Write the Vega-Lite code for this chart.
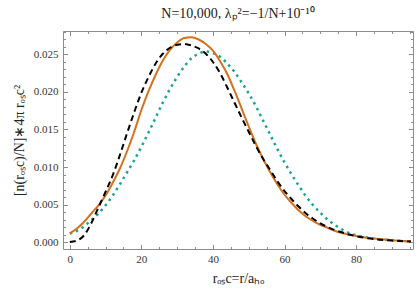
{
  "$schema": "https://vega.github.io/schema/vega-lite/v6.json",
  "width": 350,
  "height": 218,
  "autosize": {"type": "none"},
  "padding": {"left": 63, "top": 31, "right": 4, "bottom": 44},
  "background": "white",
  "config": {"view": {"stroke": null}},
  "title": {
    "text": "N=10,000, λₚ²=−1/N+10⁻¹⁰",
    "font": "Liberation Serif",
    "fontSize": 14,
    "fontWeight": "normal",
    "color": "#222222",
    "anchor": "middle",
    "frame": "group",
    "offset": 10
  },
  "data": {
    "values": [
      {"r":0,"v":0.00116,"s":"A"},{"r":2,"v":0.0018,"s":"A"},{"r":4,"v":0.0027,"s":"A"},{"r":6,"v":0.0038,"s":"A"},{"r":8,"v":0.0049,"s":"A"},{"r":10,"v":0.0062,"s":"A"},{"r":12,"v":0.0079,"s":"A"},{"r":14,"v":0.0098,"s":"A"},{"r":16,"v":0.0121,"s":"A"},{"r":18,"v":0.0147,"s":"A"},{"r":20,"v":0.0176,"s":"A"},{"r":22,"v":0.0201,"s":"A"},{"r":24,"v":0.0223,"s":"A"},{"r":26,"v":0.0242,"s":"A"},{"r":28,"v":0.0256,"s":"A"},{"r":30,"v":0.0266,"s":"A"},{"r":32,"v":0.0272,"s":"A"},{"r":34,"v":0.0273,"s":"A"},{"r":36,"v":0.0270,"s":"A"},{"r":38,"v":0.0264,"s":"A"},{"r":40,"v":0.0255,"s":"A"},{"r":42,"v":0.0241,"s":"A"},{"r":44,"v":0.0224,"s":"A"},{"r":46,"v":0.0202,"s":"A"},{"r":48,"v":0.0178,"s":"A"},{"r":50,"v":0.0154,"s":"A"},{"r":52,"v":0.0131,"s":"A"},{"r":54,"v":0.0111,"s":"A"},{"r":56,"v":0.0093,"s":"A"},{"r":58,"v":0.0077,"s":"A"},{"r":60,"v":0.0063,"s":"A"},{"r":62,"v":0.0052,"s":"A"},{"r":64,"v":0.0042,"s":"A"},{"r":66,"v":0.0034,"s":"A"},{"r":68,"v":0.0028,"s":"A"},{"r":70,"v":0.0023,"s":"A"},{"r":72,"v":0.0019,"s":"A"},{"r":74,"v":0.0015,"s":"A"},{"r":76,"v":0.0012,"s":"A"},{"r":78,"v":0.0010,"s":"A"},{"r":80,"v":0.0008,"s":"A"},{"r":82,"v":0.00065,"s":"A"},{"r":84,"v":0.00052,"s":"A"},{"r":86,"v":0.00042,"s":"A"},{"r":88,"v":0.00033,"s":"A"},{"r":90,"v":0.00025,"s":"A"},{"r":92,"v":0.00019,"s":"A"},{"r":94,"v":0.00014,"s":"A"},{"r":95.3,"v":0.00012,"s":"A"},
      {"r":0,"v":0.0000,"s":"B"},{"r":2,"v":0.0002,"s":"B"},{"r":4,"v":0.0009,"s":"B"},{"r":6,"v":0.0025,"s":"B"},{"r":8,"v":0.0046,"s":"B"},{"r":10,"v":0.0067,"s":"B"},{"r":12,"v":0.0089,"s":"B"},{"r":14,"v":0.0116,"s":"B"},{"r":16,"v":0.0145,"s":"B"},{"r":18,"v":0.0173,"s":"B"},{"r":20,"v":0.0199,"s":"B"},{"r":22,"v":0.0220,"s":"B"},{"r":24,"v":0.0238,"s":"B"},{"r":26,"v":0.0251,"s":"B"},{"r":28,"v":0.0259,"s":"B"},{"r":30,"v":0.0263,"s":"B"},{"r":32,"v":0.0264,"s":"B"},{"r":34,"v":0.0262,"s":"B"},{"r":36,"v":0.0258,"s":"B"},{"r":38,"v":0.0251,"s":"B"},{"r":40,"v":0.0240,"s":"B"},{"r":42,"v":0.0225,"s":"B"},{"r":44,"v":0.0206,"s":"B"},{"r":46,"v":0.0186,"s":"B"},{"r":48,"v":0.0166,"s":"B"},{"r":50,"v":0.0147,"s":"B"},{"r":52,"v":0.0128,"s":"B"},{"r":54,"v":0.0111,"s":"B"},{"r":56,"v":0.0096,"s":"B"},{"r":58,"v":0.0081,"s":"B"},{"r":60,"v":0.0068,"s":"B"},{"r":62,"v":0.0057,"s":"B"},{"r":64,"v":0.0047,"s":"B"},{"r":66,"v":0.0038,"s":"B"},{"r":68,"v":0.0031,"s":"B"},{"r":70,"v":0.0025,"s":"B"},{"r":72,"v":0.0020,"s":"B"},{"r":74,"v":0.0016,"s":"B"},{"r":76,"v":0.0013,"s":"B"},{"r":78,"v":0.0010,"s":"B"},{"r":80,"v":0.00078,"s":"B"},{"r":82,"v":0.0006,"s":"B"},{"r":84,"v":0.00046,"s":"B"},{"r":86,"v":0.00035,"s":"B"},{"r":88,"v":0.00026,"s":"B"},{"r":90,"v":0.00019,"s":"B"},{"r":92,"v":0.00013,"s":"B"},{"r":94,"v":0.00008,"s":"B"},{"r":95.3,"v":0.00006,"s":"B"},
      {"r":0,"v":0.0011,"s":"C"},{"r":2,"v":0.0015,"s":"C"},{"r":4,"v":0.0021,"s":"C"},{"r":6,"v":0.0029,"s":"C"},{"r":8,"v":0.0038,"s":"C"},{"r":10,"v":0.0049,"s":"C"},{"r":12,"v":0.0062,"s":"C"},{"r":14,"v":0.0077,"s":"C"},{"r":16,"v":0.0093,"s":"C"},{"r":18,"v":0.0109,"s":"C"},{"r":20,"v":0.0127,"s":"C"},{"r":22,"v":0.0146,"s":"C"},{"r":24,"v":0.0166,"s":"C"},{"r":26,"v":0.0186,"s":"C"},{"r":28,"v":0.0204,"s":"C"},{"r":30,"v":0.0220,"s":"C"},{"r":32,"v":0.0234,"s":"C"},{"r":34,"v":0.0245,"s":"C"},{"r":36,"v":0.0251,"s":"C"},{"r":38,"v":0.0254,"s":"C"},{"r":40,"v":0.0252,"s":"C"},{"r":42,"v":0.0247,"s":"C"},{"r":44,"v":0.0238,"s":"C"},{"r":46,"v":0.0227,"s":"C"},{"r":48,"v":0.0213,"s":"C"},{"r":50,"v":0.0198,"s":"C"},{"r":52,"v":0.0181,"s":"C"},{"r":54,"v":0.0162,"s":"C"},{"r":56,"v":0.0143,"s":"C"},{"r":58,"v":0.0124,"s":"C"},{"r":60,"v":0.0106,"s":"C"},{"r":62,"v":0.0090,"s":"C"},{"r":64,"v":0.0075,"s":"C"},{"r":66,"v":0.0061,"s":"C"},{"r":68,"v":0.0049,"s":"C"},{"r":70,"v":0.0039,"s":"C"},{"r":72,"v":0.0030,"s":"C"},{"r":74,"v":0.0023,"s":"C"},{"r":76,"v":0.0017,"s":"C"},{"r":78,"v":0.0012,"s":"C"},{"r":80,"v":0.0009,"s":"C"},{"r":82,"v":0.0007,"s":"C"},{"r":84,"v":0.00053,"s":"C"},{"r":86,"v":0.0004,"s":"C"},{"r":88,"v":0.0003,"s":"C"},{"r":90,"v":0.00022,"s":"C"},{"r":92,"v":0.00016,"s":"C"},{"r":94,"v":0.00011,"s":"C"},{"r":95.3,"v":0.0001,"s":"C"}
    ]
  },
  "layer": [
    {
      "transform": [{"filter": "datum.s === 'C'"}],
      "mark": {"type": "line", "color": "#1aa58c", "strokeWidth": 2.5, "strokeDash": [2.5, 4], "strokeCap": "butt", "interpolate": "monotone"},
      "encoding": {
        "x": {"field": "r", "type": "quantitative", "scale": {"domain": [-1.9, 95.9], "nice": false, "zero": false},
          "axis": {"orient": "bottom", "values": [0, 20, 40, 60, 80], "ticks": false, "domain": true, "domainColor": "#8c8c8c", "grid": false,
            "labelFont": "Liberation Serif", "labelFontSize": 11, "labelColor": "#333333", "labelPadding": 4,
            "title": "rₒₛc=r/aₕₒ", "titleFont": "Liberation Serif", "titleFontSize": 14, "titleFontWeight": "normal", "titleColor": "#222222", "titlePadding": 7}},
        "y": {"field": "v", "type": "quantitative", "scale": {"domain": [-0.00093, 0.02813], "nice": false, "zero": false},
          "axis": {"orient": "left", "values": [0, 0.005, 0.01, 0.015, 0.02, 0.025], "format": ".3f", "ticks": false, "domain": true, "domainColor": "#8c8c8c", "grid": false,
            "labelFont": "Liberation Serif", "labelFontSize": 11, "labelColor": "#333333", "labelPadding": 5,
            "title": "[n(rₒₛc)/N]∗4π rₒₛc²", "titleFont": "Liberation Serif", "titleFontSize": 14, "titleFontWeight": "normal", "titleColor": "#222222", "titlePadding": 7}}
      }
    },
    {
      "transform": [{"filter": "datum.s === 'A'"}],
      "mark": {"type": "line", "color": "#d4711c", "strokeWidth": 2, "interpolate": "monotone"},
      "encoding": {
        "x": {"field": "r", "type": "quantitative", "scale": {"domain": [-1.9, 95.9], "nice": false, "zero": false},
          "axis": {"orient": "bottom", "values": [0, 20, 40, 60, 80], "ticks": true, "tickSize": -4.5, "tickColor": "#8c8c8c", "labels": false, "domain": false, "grid": false, "title": null}},
        "y": {"field": "v", "type": "quantitative", "scale": {"domain": [-0.00093, 0.02813], "nice": false, "zero": false},
          "axis": {"orient": "left", "values": [0, 0.005, 0.01, 0.015, 0.02, 0.025], "ticks": true, "tickSize": -4.5, "tickColor": "#8c8c8c", "labels": false, "domain": false, "grid": false, "title": null}}
      }
    },
    {
      "transform": [{"filter": "datum.s === 'B'"}],
      "mark": {"type": "line", "color": "#000000", "strokeWidth": 2, "strokeDash": [6, 4], "interpolate": "monotone"},
      "encoding": {
        "x": {"field": "r", "type": "quantitative", "scale": {"domain": [-1.9, 95.9], "nice": false, "zero": false},
          "axis": {"orient": "bottom", "values": [5, 10, 15, 25, 30, 35, 45, 50, 55, 65, 70, 75, 85, 90, 95], "ticks": true, "tickSize": -2.5, "tickColor": "#8c8c8c", "labels": false, "domain": false, "grid": false, "title": null}},
        "y": {"field": "v", "type": "quantitative", "scale": {"domain": [-0.00093, 0.02813], "nice": false, "zero": false},
          "axis": {"orient": "left", "values": [0.001, 0.002, 0.003, 0.004, 0.006, 0.007, 0.008, 0.009, 0.011, 0.012, 0.013, 0.014, 0.016, 0.017, 0.018, 0.019, 0.021, 0.022, 0.023, 0.024, 0.026, 0.027, 0.028], "ticks": true, "tickSize": -2.5, "tickColor": "#8c8c8c", "labels": false, "domain": false, "grid": false, "title": null}}
      }
    },
    {
      "transform": [{"filter": "datum.s === 'A'"}],
      "mark": {"type": "line", "opacity": 0},
      "encoding": {
        "x": {"field": "r", "type": "quantitative", "scale": {"domain": [-1.9, 95.9], "nice": false, "zero": false},
          "axis": {"orient": "top", "values": [0, 20, 40, 60, 80], "ticks": true, "tickSize": -4.5, "tickColor": "#8c8c8c", "labels": false, "domain": true, "domainColor": "#8c8c8c", "grid": false, "title": null}},
        "y": {"field": "v", "type": "quantitative", "scale": {"domain": [-0.00093, 0.02813], "nice": false, "zero": false},
          "axis": {"orient": "right", "values": [0, 0.005, 0.01, 0.015, 0.02, 0.025], "ticks": true, "tickSize": -4.5, "tickColor": "#8c8c8c", "labels": false, "domain": true, "domainColor": "#8c8c8c", "grid": false, "title": null}}
      }
    },
    {
      "transform": [{"filter": "datum.s === 'A'"}],
      "mark": {"type": "line", "opacity": 0},
      "encoding": {
        "x": {"field": "r", "type": "quantitative", "scale": {"domain": [-1.9, 95.9], "nice": false, "zero": false},
          "axis": {"orient": "top", "values": [5, 10, 15, 25, 30, 35, 45, 50, 55, 65, 70, 75, 85, 90, 95], "ticks": true, "tickSize": -2.5, "tickColor": "#8c8c8c", "labels": false, "domain": false, "grid": false, "title": null}},
        "y": {"field": "v", "type": "quantitative", "scale": {"domain": [-0.00093, 0.02813], "nice": false, "zero": false},
          "axis": {"orient": "right", "values": [0.001, 0.002, 0.003, 0.004, 0.006, 0.007, 0.008, 0.009, 0.011, 0.012, 0.013, 0.014, 0.016, 0.017, 0.018, 0.019, 0.021, 0.022, 0.023, 0.024, 0.026, 0.027, 0.028], "ticks": true, "tickSize": -2.5, "tickColor": "#8c8c8c", "labels": false, "domain": false, "grid": false, "title": null}}
      }
    }
  ],
  "resolve": {"axis": {"x": "independent", "y": "independent"}}
}
